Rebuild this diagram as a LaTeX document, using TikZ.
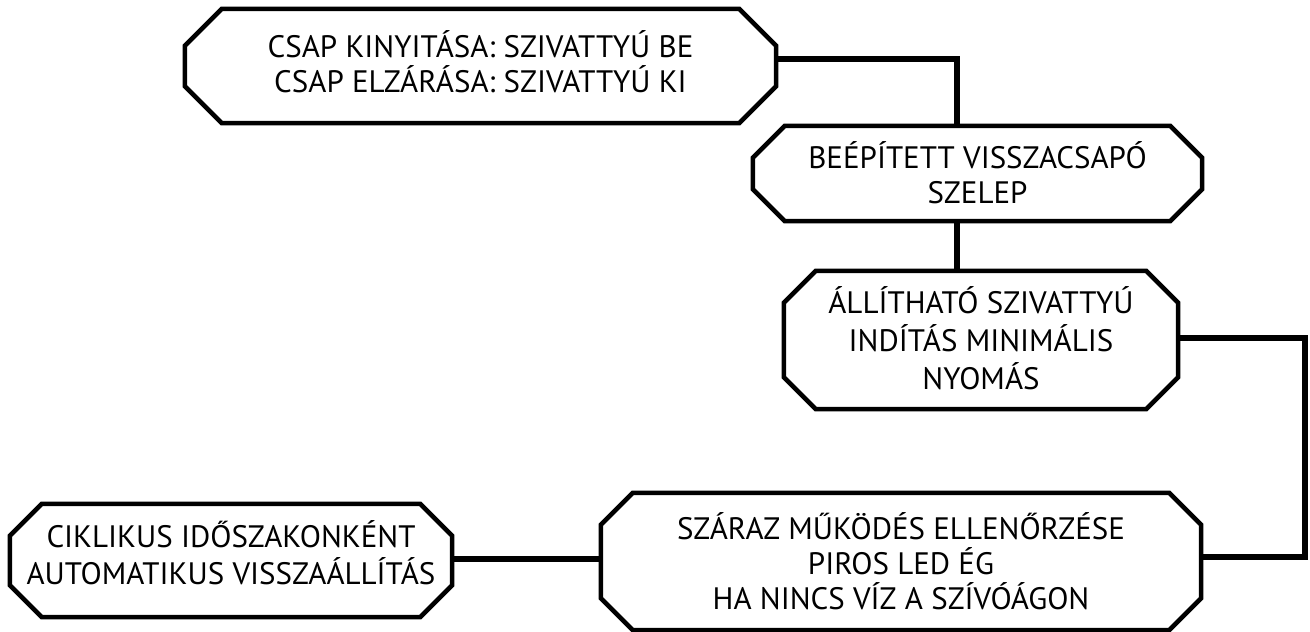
\documentclass[tikz,border=0pt]{standalone}
\usepackage{fontspec}
\setmainfont{PT Sans}
\usetikzlibrary{calc}
\newcommand\drawocta[2]{%
  \draw[boxline] ($(#1.north west)+(#2,0)$) -- ($(#1.north east)+(-#2,0)$)
    -- ($(#1.north east)+(0,#2)$) -- ($(#1.south east)+(0,-#2)$)
    -- ($(#1.south east)+(-#2,0)$) -- ($(#1.south west)+(#2,0)$)
    -- ($(#1.south west)+(0,-#2)$) -- ($(#1.north west)+(0,#2)$) -- cycle;}
\begin{document}
\begin{tikzpicture}[x=1pt,y=-1pt,
  boxtext/.style={inner sep=0pt, align=center, font=\fontsize{31}{35}\selectfont},
  boxline/.style={line width=4.5pt, line join=miter, draw=black},
  conn/.style={line width=6pt, line join=miter, draw=black}]
\useasboundingbox (0,0) rectangle (1310,632);
\node[boxtext, text depth=8pt, minimum width=591pt, minimum height=114pt] (b1) at (480.5,66)
  {CSAP KINYITÁSA: SZIVATTYÚ BE\\CSAP ELZÁRÁSA: SZIVATTYÚ KI};
\node[boxtext, text depth=2pt, minimum width=449pt, minimum height=95pt] (b2) at (977.5,173.5)
  {BEÉPÍTETT VISSZACSAPÓ\\SZELEP};
\node[boxtext, text depth=4pt, minimum width=394pt, minimum height=138pt, font=\fontsize{31}{38}\selectfont] (b3) at (981,340)
  {ÁLLÍTHATÓ SZIVATTYÚ\\INDÍTÁS MINIMÁLIS\\NYOMÁS};
\node[boxtext, text depth=0pt, minimum width=600pt, minimum height=137pt] (b4) at (901,561.5)
  {SZÁRAZ MŰKÖDÉS ELLENŐRZÉSE\\PIROS LED ÉG\\HA NINCS VÍZ A SZÍVÓÁGON};
\node[boxtext, text depth=16pt, minimum width=442pt, minimum height=113pt, font=\fontsize{31}{37}\selectfont] (b5) at (231,560.5)
  {CIKLIKUS IDŐSZAKONKÉNT\\AUTOMATIKUS VISSZAÁLLÍTÁS};
\coordinate (j1) at (957,59);
\coordinate (r) at (1305,0);
\draw[conn] (b1.east |- j1) -- (j1) -- (j1 |- b2.north);
\draw[conn] (j1 |- b2.south) -- (j1 |- b3.north);
\draw[conn] ([yshift=2pt]b3.east) -- ([yshift=2pt]b3.east -| r) |- ([yshift=4.5pt]b4.east);
\draw[conn] ([yshift=2.5pt]b4.west) -- ([yshift=2.5pt]b4.west -| b5.east);
\drawocta{b1}{37}
\drawocta{b2}{32}
\drawocta{b3}{32}
\drawocta{b4}{32}
\drawocta{b5}{32}
\end{tikzpicture}
\end{document}
